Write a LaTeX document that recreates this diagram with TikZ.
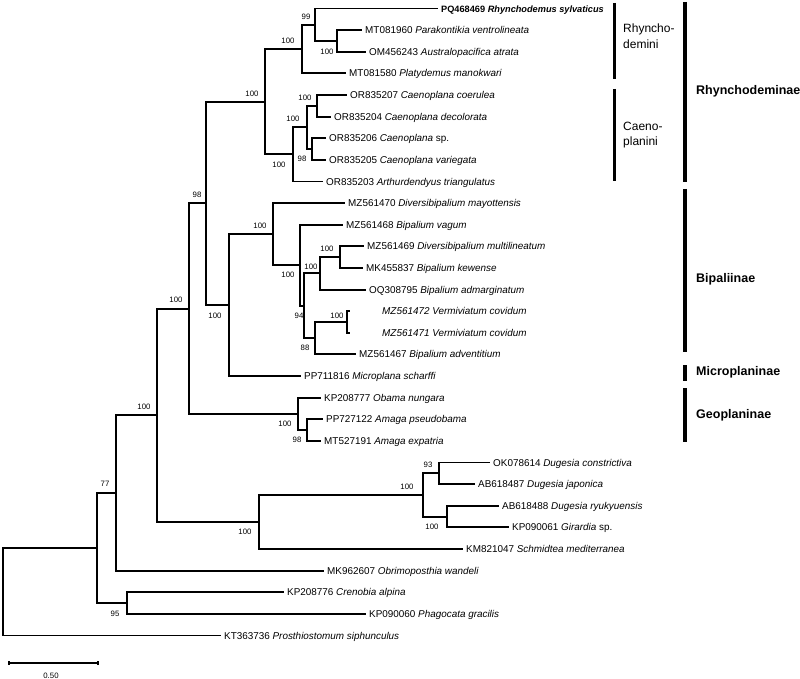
\documentclass[tikz,border=0pt]{standalone}
\usepackage{fontspec}
\setmainfont{Liberation Sans}
\usetikzlibrary{positioning,calc}
\tikzset{
    branch/.style={
        draw=black,
        line width=1.9pt,
        line cap=rect,
    },
    taxon/.style={
        anchor=west,
        inner xsep=4pt,
        inner ysep=0pt,
        text height=7.1pt,
        text depth=0pt,
        font=\fontsize{9.9}{12}\selectfont,
    },
    support/.style={
        inner sep=0pt,
        font=\fontsize{7.8}{9}\selectfont,
    },
    cladebar/.style={
        draw=black,
        line width=4pt,
    },
    tribebar/.style={
        draw=black,
        line width=3pt,
    },
    cladename/.style={
        anchor=west,
        inner sep=0pt,
        font=\fontsize{12.5}{15}\selectfont\bfseries,
    },
    tribename/.style={
        anchor=west,
        align=left,
        inner sep=0pt,
        font=\fontsize{12}{15.5}\selectfont,
    },
    scalebar/.style={
        draw=black,
        line width=1.4pt,
    },
}

\begin{document}
\begin{tikzpicture}[x=1pt,y=-1pt]
\useasboundingbox (0,0) rectangle (800,679);

% taxa
\node[taxon,font=\fontsize{9.2}{12}\selectfont] (t1) at (437,8.5) {\textbf{PQ468469 \textit{Rhynchodemus sylvaticus}}};
\node[taxon] (t2) at (361,30.1) {MT081960 \textit{Parakontikia ventrolineata}};
\node[taxon] (t3) at (365,51.7) {OM456243 \textit{Australopacifica atrata}};
\node[taxon] (t4) at (345,73.4) {MT081580 \textit{Platydemus manokwari}};
\node[taxon] (t5) at (346,95) {OR835207 \textit{Caenoplana coerulea}};
\node[taxon] (t6) at (330,116.6) {OR835204 \textit{Caenoplana decolorata}};
\node[taxon] (t7) at (325,138.2) {OR835206 \textit{Caenoplana} sp.};
\node[taxon] (t8) at (325,159.8) {OR835205 \textit{Caenoplana variegata}};
\node[taxon] (t9) at (322,181.5) {OR835203 \textit{Arthurdendyus triangulatus}};
\node[taxon] (t10) at (344,203.1) {MZ561470 \textit{Diversibipalium mayottensis}};
\node[taxon] (t11) at (342,224.7) {MZ561468 \textit{Bipalium vagum}};
\node[taxon] (t12) at (363,246.3) {MZ561469 \textit{Diversibipalium multilineatum}};
\node[taxon] (t13) at (362,267.9) {MK455837 \textit{Bipalium kewense}};
\node[taxon] (t14) at (365,289.6) {OQ308795 \textit{Bipalium admarginatum}};
\coordinate (e15) at (349,311.2);
\coordinate (e16) at (349,332.8);
\node[taxon] (t15) at (378,311.2) {\textit{MZ561472 Vermiviatum covidum}};
\node[taxon] (t16) at (378,332.8) {\textit{MZ561471 Vermiviatum covidum}};
\node[taxon] (t17) at (355,354.4) {MZ561467 \textit{Bipalium adventitium}};
\node[taxon] (t18) at (300,376) {PP711816 \textit{Microplana scharffi}};
\node[taxon] (t19) at (320,397.7) {KP208777 \textit{Obama nungara}};
\node[taxon] (t20) at (322,419.3) {PP727122 \textit{Amaga pseudobama}};
\node[taxon] (t21) at (320,440.9) {MT527191 \textit{Amaga expatria}};
\node[taxon] (t22) at (489,462.5) {OK078614 \textit{Dugesia constrictiva}};
\node[taxon] (t23) at (474,484.1) {AB618487 \textit{Dugesia japonica}};
\node[taxon] (t24) at (498,505.8) {AB618488 \textit{Dugesia ryukyuensis}};
\node[taxon] (t25) at (508,527.4) {KP090061 \textit{Girardia} sp.};
\node[taxon] (t26) at (462,549) {KM821047 \textit{Schmidtea mediterranea}};
\node[taxon] (t27) at (323,570.6) {MK962607 \textit{Obrimoposthia wandeli}};
\node[taxon] (t28) at (283,592.2) {KP208776 \textit{Crenobia alpina}};
\node[taxon] (t29) at (365,613.9) {KP090060 \textit{Phagocata gracilis}};
\node[taxon] (t30) at (220,635.5) {KT363736 \textit{Prosthiostomum siphunculus}};

% internal nodes
\coordinate (nC) at (337,40.9);
\coordinate (nB) at (315,24.7);
\coordinate (nA) at (302,49.05);
\coordinate (nF) at (317,105.8);
\coordinate (nG) at (312,149);
\coordinate (nE) at (307,127.4);
\coordinate (nD) at (293,154.45);
\coordinate (nH) at (265,101.75);
\coordinate (nM) at (340,257.1);
\coordinate (nL) at (320,273.35);
\coordinate (nO) at (347,322);
\coordinate (nN) at (315,338.2);
\coordinate (nK) at (304,305.8);
\coordinate (nJ) at (300,265.25);
\coordinate (nI) at (273,234.2);
\coordinate (nP) at (229,305.1);
\coordinate (nQ) at (206,203.4);
\coordinate (nT) at (307,430.1);
\coordinate (nS) at (298,413.9);
\coordinate (nR) at (189,308.65);
\coordinate (nX) at (439,473.3);
\coordinate (nY) at (447,516.6);
\coordinate (nW) at (423,494.95);
\coordinate (nV) at (259,522);
\coordinate (nU) at (157,415.3);
\coordinate (nZ) at (116,492.95);
\coordinate (nAA) at (127,603.05);
\coordinate (nAB) at (97,548);
\coordinate (root) at (3,591.75);

% branches
\draw[branch] (nC) |- (t2.west) (nC) |- (t3.west);
\draw[branch] (nB) |- (t1.west) (nB) |- (nC);
\draw[branch] (nA) |- (nB) (nA) |- (t4.west);
\draw[branch] (nF) |- (t5.west) (nF) |- (t6.west);
\draw[branch] (nG) |- (t7.west) (nG) |- (t8.west);
\draw[branch] (nE) |- (nF) (nE) |- (nG);
\draw[branch] (nD) |- (nE) (nD) |- (t9.west);
\draw[branch] (nH) |- (nA) (nH) |- (nD);
\draw[branch] (nM) |- (t12.west) (nM) |- (t13.west);
\draw[branch] (nL) |- (nM) (nL) |- (t14.west);
\draw[branch] (nO) |- (e15) (nO) |- (e16);
\draw[branch] (nN) |- (nO) (nN) |- (t17.west);
\draw[branch] (nK) |- (nL) (nK) |- (nN);
\draw[branch] (nJ) |- (t11.west) (nJ) |- (nK);
\draw[branch] (nI) |- (t10.west) (nI) |- (nJ);
\draw[branch] (nP) |- (nI) (nP) |- (t18.west);
\draw[branch] (nQ) |- (nH) (nQ) |- (nP);
\draw[branch] (nT) |- (t20.west) (nT) |- (t21.west);
\draw[branch] (nS) |- (t19.west) (nS) |- (nT);
\draw[branch] (nR) |- (nQ) (nR) |- (nS);
\draw[branch] (nX) |- (t22.west) (nX) |- (t23.west);
\draw[branch] (nY) |- (t24.west) (nY) |- (t25.west);
\draw[branch] (nW) |- (nX) (nW) |- (nY);
\draw[branch] (nV) |- (nW) (nV) |- (t26.west);
\draw[branch] (nU) |- (nR) (nU) |- (nV);
\draw[branch] (nZ) |- (nU) (nZ) |- (t27.west);
\draw[branch] (nAA) |- (t28.west) (nAA) |- (t29.west);
\draw[branch] (nAB) |- (nZ) (nAB) |- (nAA);
\draw[branch] (root) |- (nAB) (root) |- (t30.west);

% bootstrap values
\node[support] (bB) at (306,17) {99};
\node[support] (bC) at (327,52) {100};
\node[support] (bA) at (288,41) {100};
\node[support] (bH) at (252,94) {100};
\node[support] (bF) at (305,98) {100};
\node[support] (bE) at (293,119) {100};
\node[support] (bG) at (302,159) {98};
\node[support] (bD) at (279,165) {100};
\node[support] (bQ) at (197,195) {98};
\node[support] (bI) at (260,226) {100};
\node[support] (bM) at (327,249) {100};
\node[support] (bL) at (311,267) {100};
\node[support] (bJ) at (288,275) {100};
\node[support] (bO) at (337,316) {100};
\node[support] (bK) at (299,316) {94};
\node[support] (bN) at (305,348) {88};
\node[support] (bP) at (215,316) {100};
\node[support] (bR) at (176,300) {100};
\node[support] (bS) at (285,424) {100};
\node[support] (bT) at (297,440) {98};
\node[support] (bU) at (144,407) {100};
\node[support] (bX) at (428,465) {93};
\node[support] (bW) at (407,487) {100};
\node[support] (bY) at (432,527) {100};
\node[support] (bV) at (245,532) {100};
\node[support] (bZ) at (105,484) {77};
\node[support] (bAA) at (115,614) {95};

% scale bar
\coordinate (s0) at (9,663);
\coordinate (s1) at (98,663);
\draw[scalebar] (s0) -- (s1);
\draw[scalebar] ([yshift=-2pt]s0) -- ([yshift=2pt]s0);
\draw[scalebar] ([yshift=-2pt]s1) -- ([yshift=2pt]s1);
\node[support] (scale) at (51,676) {0.50};

% tribes
\coordinate (rt0) at (614,3);
\coordinate (rt1) at (614,79);
\coordinate (ct0) at (614,89);
\coordinate (ct1) at (614,181);
\draw[tribebar] (rt0) -- (rt1);
\draw[tribebar] (ct0) -- (ct1);
\node[tribename] (rhy) at (623,36) {Rhyncho-\\demini};
\node[tribename] (cae) at (623,135) {Caeno-\\planini};

% subfamilies
\coordinate (sf0) at (685,2);
\coordinate (sf1) at (685,182);
\coordinate (sf2) at (685,189);
\coordinate (sf3) at (685,352);
\coordinate (sf4) at (685,365);
\coordinate (sf5) at (685,381);
\coordinate (sf6) at (685,388);
\coordinate (sf7) at (685,442);
\draw[cladebar] (sf0) -- (sf1);
\draw[cladebar] (sf2) -- (sf3);
\draw[cladebar] (sf4) -- (sf5);
\draw[cladebar] (sf6) -- (sf7);
\node[cladename] (rhynch) at (696,91) {Rhynchodeminae};
\node[cladename] (bipal) at (696,279) {Bipaliinae};
\node[cladename] (micro) at (696,372) {Microplaninae};
\node[cladename] (geo) at (696,415) {Geoplaninae};
\end{tikzpicture}
\end{document}
